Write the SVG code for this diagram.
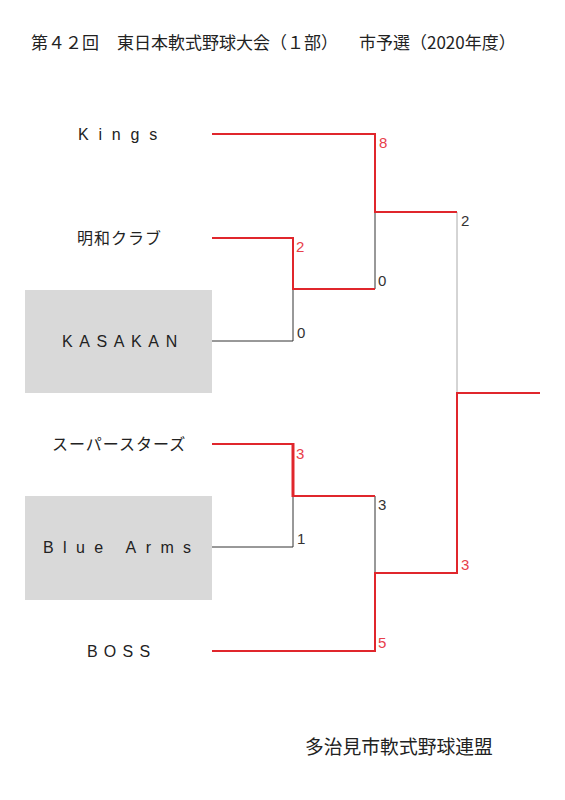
<svg xmlns="http://www.w3.org/2000/svg" width="565" height="800" viewBox="0 0 565 800">
<style>
.jp{font-family:"Noto Sans CJK JP","Noto Sans",sans-serif;fill:#222;}
.en{font-family:"Liberation Sans",Arial,sans-serif;font-size:16px;fill:#222;}
.num{font-family:"Liberation Sans",Arial,sans-serif;font-size:15px;fill:#333;}
.rn{fill:#e8404a;}
.red{stroke:#e0262c;stroke-width:2;fill:none;}
.blk{stroke:#333;stroke-width:1;fill:none;}
.box{fill:#d9d9d9;}
</style>
<rect width="565" height="800" fill="#fff"/>
<g id="title">
<text class="jp" x="31" y="49" font-size="17">第４２回</text>
<text class="jp" x="117" y="49" font-size="17">東日本軟式野球大会（１部）</text>
<text class="jp" x="359" y="49" font-size="17">市予選（2020年度）</text>
</g>
<g id="team-kings"><text class="en" x="78" y="140" letter-spacing="9.8">Kings</text></g>
<g id="team-meiwa"><text class="jp" x="77" y="244" font-size="16" letter-spacing="1">明和クラブ</text></g>
<g id="team-kasakan"><rect class="box" x="25" y="290" width="187" height="103"/><text class="en" x="62" y="347" letter-spacing="6.6">KASAKAN</text></g>
<g id="team-superstars"><text class="jp" x="52" y="450" font-size="16" letter-spacing="1">スーパースターズ</text></g>
<g id="team-bluearms"><rect class="box" x="25" y="496" width="187" height="104"/><text class="en" x="43" y="553" letter-spacing="9.4" xml:space="preserve">Blue Arms</text></g>
<g id="team-boss"><text class="en" x="87" y="657" letter-spacing="6.2">BOSS</text></g>
<g id="connectors">
<polyline class="blk" points="375,212 375,289"/>
<polyline class="blk" points="212,341 293,341 293,289"/>
<polyline class="blk" points="212,547 293,547 293,496"/>
<polyline class="blk" points="375,496 375,573"/>
<line x1="457" y1="212" x2="457" y2="393" stroke="#aaa" stroke-width="1"/>
<polyline class="red" points="212,134 375,134 375,212 457,212"/>
<polyline class="red" points="212,238 293,238 293,289 375,289"/>
<polyline class="red" points="212,444 293,444"/>
<line x1="293" y1="443" x2="293" y2="497" stroke="#e0262c" stroke-width="3"/>
<polyline class="red" points="293,496 375,496"/>
<polyline class="red" points="212,651 375,651 375,573 457,573 457,393 540,393"/>
</g>
<g id="scores">
<text class="num rn" x="379" y="148">8</text>
<text class="num rn" x="296" y="252">2</text>
<text class="num" x="378" y="286">0</text>
<text class="num" x="297" y="338">0</text>
<text class="num" x="461" y="226">2</text>
<text class="num rn" x="296" y="459">3</text>
<text class="num" x="378" y="510">3</text>
<text class="num" x="297" y="544">1</text>
<text class="num rn" x="461" y="570">3</text>
<text class="num rn" x="378" y="648">5</text>
</g>
<g id="footer"><text class="jp" x="305" y="754" font-size="18.8">多治見市軟式野球連盟</text></g>
</svg>
